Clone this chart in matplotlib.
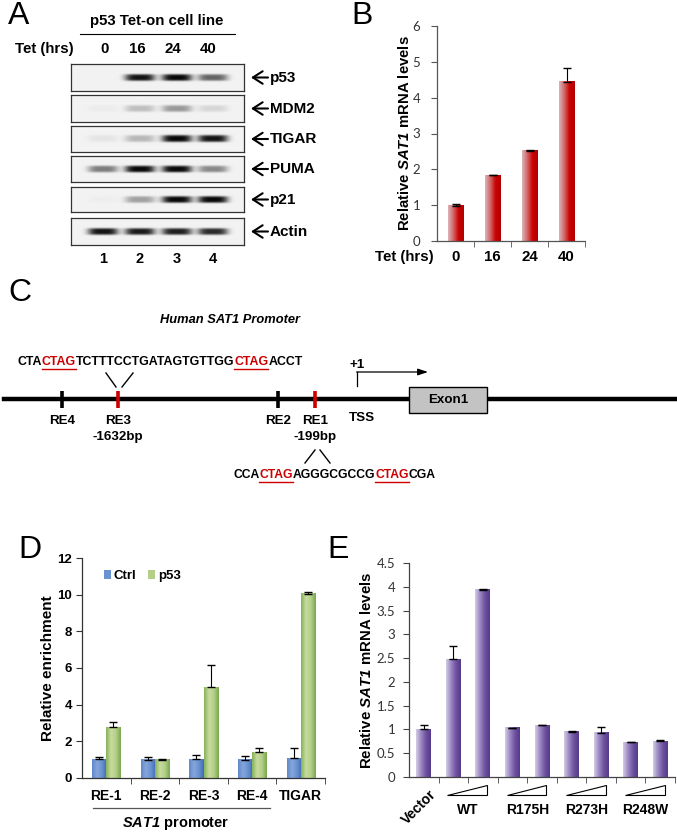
import numpy as np
import matplotlib
matplotlib.use('Agg')
import matplotlib.pyplot as plt
import matplotlib.transforms as mtransforms
from matplotlib import font_manager
from matplotlib.colors import LinearSegmentedColormap
from matplotlib.patches import Patch, Rectangle, Polygon

# %% data
tet_hours = ['0', '16', '24', '40']
sat1_tet = [0.99, 1.84, 2.52, 4.44]
sat1_tet_err = [0.05, 0.01, 0.01, 0.40]

blot_proteins = ['p53', 'MDM2', 'TIGAR', 'PUMA', 'p21', 'Actin']
blot_bands = [
    [0.00, 0.95, 1.00, 0.60],
    [0.03, 0.22, 0.38, 0.12],
    [0.06, 0.25, 1.00, 0.95],
    [0.50, 1.00, 1.00, 0.45],
    [0.02, 0.35, 1.00, 1.00],
    [0.95, 0.92, 0.90, 0.85],
]
lane_numbers = ['1', '2', '3', '4']

chip_sites = ['RE-1', 'RE-2', 'RE-3', 'RE-4', 'TIGAR']
chip_ctrl = [1.02, 1.0, 1.02, 1.0, 1.07]
chip_ctrl_err = [0.14, 0.12, 0.24, 0.2, 0.55]
chip_p53 = [2.77, 1.0, 4.95, 1.40, 10.04]
chip_p53_err = [0.27, 0.03, 1.2, 0.22, 0.12]

mutant_groups = ['WT', 'R175H', 'R273H', 'R248W']
mutant_vals = [1.0, 2.48, 3.94, 1.04, 1.09, 0.95, 0.93, 0.73, 0.75]
mutant_err = [0.09, 0.27, 0.02, 0.0, 0.01, 0.02, 0.13, 0.01, 0.02]

seq_re3 = [('CTA', 0), ('CTAG', 1), ('TCTTTCCTGATAGTGTTGG', 0), ('CTAG', 1), ('ACCT', 0)]
seq_re1 = [('CCA', 0), ('CTAG', 1), ('AGGGCGCCG', 0), ('CTAG', 1), ('CGA', 0)]

# %% style
names = {f.name for f in font_manager.fontManager.ttflist}
light = 'Lato' if 'Lato' in names else 'Open Sans'
plt.rcParams['font.family'] = ['Liberation Sans', 'DejaVu Sans']
plt.rcParams['mathtext.fontset'] = 'custom'
# digits inside \mathit fall back to rm, so rm is bold italic as well
plt.rcParams['mathtext.rm'] = 'Liberation Sans:italic:bold'
plt.rcParams['mathtext.it'] = 'Liberation Sans:italic:bold'
plt.rcParams['mathtext.bf'] = 'Liberation Sans:bold'

W, H = 677, 833
fig = plt.figure(figsize=(W / 100, H / 100), dpi=100)
RED = '#cc0000'


def px_axes(left, top, right, bottom):
    return fig.add_axes([left / W, 1 - bottom / H, (right - left) / W, (bottom - top) / H])


canvas = px_axes(0, 0, W, H)
canvas.set_xlim(0, W)
canvas.set_ylim(H, 0)
canvas.axis('off')

for letter, x, y in [('A', 8, 16), ('B', 351, 16), ('C', 8, 293), ('D', 18, 550), ('E', 327, 550)]:
    canvas.text(x, y, letter, fontsize=23, ha='left', va='center')


def gradient_bars(ax, bars, cmap):
    grad = np.linspace(0, 1, 64).reshape(1, -1)
    for b in bars:
        x0, w, h = b.get_x(), b.get_width(), b.get_height()
        ax.imshow(grad, cmap=cmap, extent=(x0, x0 + w, 0, h), aspect='auto',
                  interpolation='bicubic', zorder=2)
        b.set_facecolor('none')
        b.set_edgecolor('none')


def style_axes(ax, n, color, pad):
    for s in ['top', 'right']:
        ax.spines[s].set_visible(False)
    for s in ['left', 'bottom']:
        ax.spines[s].set_color(color)
        ax.spines[s].set_linewidth(0.9)
    ax.set_xticks(np.arange(n))
    ax.set_xticklabels([])
    ax.tick_params(axis='x', which='major', length=0)
    ax.set_xticks(np.arange(n) + 0.5, minor=True)
    ax.tick_params(axis='x', which='minor', length=4, direction='out', color=color)
    ax.tick_params(axis='y', length=4, direction='out', color=color, pad=pad)


# %% A - western blot
canvas.text(157, 21, 'p53 Tet-on cell line', fontsize=10.8, fontweight='bold', ha='center', va='center')
canvas.plot([80, 235], [34, 34], color='black', lw=0.8)
canvas.text(15, 49, 'Tet (hrs)', fontsize=10.8, fontweight='bold', ha='left', va='center')
lane_x = [103, 140, 177, 213]
for lx, lab in zip([105, 137, 173, 208], tet_hours):
    canvas.text(lx, 49, lab, fontsize=10.8, fontweight='bold', ha='center', va='center')
for lx, lab in zip(lane_x, lane_numbers):
    canvas.text(lx, 259, lab, fontsize=10.5, fontweight='bold', ha='center', va='center')

rows = [(64, 91), (95, 122), (126, 152), (156, 182), (187, 212), (218, 245)]
box_l, box_r = 71, 244
for (top, bot), prot, bands in zip(rows, blot_proteins, blot_bands):
    ax = px_axes(box_l, top, box_r, bot)
    nx, ny = (box_r - box_l) * 3, (bot - top) * 3
    xx, yy = np.meshgrid(np.linspace(box_l, box_r, nx), np.linspace(top, bot, ny))
    yc = (top + bot) / 2
    dark = np.zeros_like(xx)
    for lx, inten in zip(lane_x, bands):
        dark += inten * np.exp(-((xx - lx) / 15) ** 4) * np.exp(-((yy - yc) / 3.4) ** 4)
    img = 0.95 - 0.92 * np.clip(dark, 0, 1)
    ax.imshow(img, cmap='gray', vmin=0, vmax=1, aspect='auto', interpolation='bilinear')
    ax.set_xticks([])
    ax.set_yticks([])
    for s in ax.spines.values():
        s.set_linewidth(0.9)
        s.set_color('#333333')
    canvas.annotate('', xy=(251, yc), xytext=(268, yc),
                    arrowprops=dict(arrowstyle='->,head_length=0.7,head_width=0.45', lw=1.5, color='black',
                                    shrinkA=0, shrinkB=0))
    canvas.text(270, yc, prot, fontsize=11, fontweight='bold', ha='left', va='center')

# %% B - SAT1 mRNA vs tet
axB = px_axes(437, 26, 585, 241)
xb = np.arange(len(tet_hours))
bars = axB.bar(xb, sat1_tet, width=0.42, zorder=2)
red_cmap = LinearSegmentedColormap.from_list('r', ['#dcb4b8', '#d06868', '#cc0000', '#b00000'])
gradient_bars(axB, bars, red_cmap)
axB.errorbar(xb, sat1_tet, yerr=[np.zeros(4), sat1_tet_err], fmt='none', ecolor='black',
             elinewidth=0.8, capsize=3, capthick=1.0, zorder=3)
style_axes(axB, 4, '#555555', 8)
axB.set_xlim(-0.5, 3.5)
axB.set_ylim(0, 6)
axB.set_yticks(range(7))
axB.set_yticklabels([str(v) for v in range(7)], fontfamily=light, fontsize=9.5, color='#333333')
axB.set_ylabel(r'Relative $\mathit{SAT1}$ mRNA levels', fontsize=10.7, fontweight='bold', va='center')
axB.yaxis.set_label_coords(-0.22, 0.5)
tb = mtransforms.blended_transform_factory(axB.transData, axB.transAxes)
for x, lab in zip(xb, tet_hours):
    axB.text(x, -0.075, lab, transform=tb, fontsize=10.8, fontweight='bold', ha='center', va='center')
canvas.text(434, 257, 'Tet (hrs)', fontsize=10.8, fontweight='bold', ha='right', va='center')

# %% C - promoter diagram
canvas.text(230, 320, 'Human SAT1 Promoter', fontsize=9.3, fontweight='bold', fontstyle='italic',
            ha='center', va='center')
renderer = fig.canvas.get_renderer()


def seq_text(x, y, parts, fs):
    for s, site in parts:
        t = canvas.text(x, y, s, fontsize=fs, fontweight='bold',
                        color=RED if site else 'black', ha='left', va='center')
        w = t.get_window_extent(renderer).width
        if site:
            canvas.plot([x, x + w], [y + 6.5, y + 6.5], color=RED, lw=1.0)
        x += w


seq_text(17, 362, seq_re3, 8.9)
seq_text(233, 475, seq_re1, 8.7)
canvas.plot([106, 116], [373, 387], color='black', lw=1)
canvas.plot([133, 122], [373, 387], color='black', lw=1)
canvas.plot([305, 315], [463, 450], color='black', lw=1)
canvas.plot([320, 330], [450, 463], color='black', lw=1)

canvas.plot([4, W], [399, 399], color='black', lw=3.2, zorder=1)
re_sites = [('RE4', 62, 'black', ''), ('RE3', 118, RED, '-1632bp'),
            ('RE2', 278, 'black', ''), ('RE1', 315, RED, '-199bp')]
for lab, x, col, sub in re_sites:
    canvas.plot([x, x], [391, 408], color=col, lw=2.6, solid_capstyle='butt', zorder=2)
    canvas.text(x, 421, lab, fontsize=9.6, fontweight='bold', ha='center', va='center')
    if sub:
        canvas.text(x, 437, sub, fontsize=9.6, fontweight='bold', ha='center', va='center')
canvas.text(362, 418, 'TSS', fontsize=9.6, fontweight='bold', ha='center', va='center')
canvas.text(357, 365, '+1', fontsize=9.6, fontweight='bold', ha='center', va='center')
canvas.plot([357, 357], [386, 372], color='black', lw=0.9)
canvas.annotate('', xy=(428, 372), xytext=(356.6, 372),
                arrowprops=dict(arrowstyle='-|>,head_length=0.6,head_width=0.2', lw=0.9, color='black',
                                shrinkA=0, shrinkB=0))
canvas.add_patch(Rectangle((409, 387), 78, 26, facecolor='#c3c3c3', edgecolor='black', lw=1, zorder=3))
canvas.text(448, 400, 'Exon1', fontsize=9.6, fontweight='bold', ha='center', va='center', zorder=4)

# %% D - ChIP
axD = px_axes(82, 558, 325, 778)
xd = np.arange(len(chip_sites))
bw = 0.29
bc = axD.bar(xd - bw / 2, chip_ctrl, width=bw, zorder=2)
bp = axD.bar(xd + bw / 2, chip_p53, width=bw, zorder=2)
blue_cmap = LinearSegmentedColormap.from_list('b', ['#5f88c8', '#86a6dc', '#6a92d0', '#3d6cb4'])
green_cmap = LinearSegmentedColormap.from_list('g', ['#86b05a', '#c8dca0', '#b4d088', '#78a650'])
gradient_bars(axD, bc, blue_cmap)
gradient_bars(axD, bp, green_cmap)
axD.errorbar(xd - bw / 2, chip_ctrl, yerr=[np.zeros(5), chip_ctrl_err], fmt='none', ecolor='black',
             elinewidth=0.8, capsize=3, capthick=1.0, zorder=3)
axD.errorbar(xd + bw / 2, chip_p53, yerr=[np.zeros(5), chip_p53_err], fmt='none', ecolor='black',
             elinewidth=0.8, capsize=3, capthick=1.0, zorder=3)
style_axes(axD, 5, '#333333', 3)
axD.set_xlim(-0.5, 4.5)
axD.set_ylim(0, 12)
axD.set_yticks(range(0, 13, 2))
axD.set_yticklabels([str(v) for v in range(0, 13, 2)], fontsize=9.5, fontweight='bold')
axD.set_ylabel('Relative enrichment', fontsize=11, fontweight='bold', va='center')
axD.yaxis.set_label_coords(-0.14, 0.5)
td = mtransforms.blended_transform_factory(axD.transData, axD.transAxes)
for x, lab in zip(xd, chip_sites):
    axD.text(x, -0.08, lab, transform=td, fontsize=10, fontweight='bold', ha='center', va='center')
axD.legend(handles=[Patch(facecolor='#6a92d0', label='Ctrl'), Patch(facecolor='#b4d088', label='p53')],
           loc='upper left', bbox_to_anchor=(0.04, 1.0), ncol=2, frameon=False, handlelength=0.55,
           handleheight=0.7, handletextpad=0.2, columnspacing=0.9, prop={'weight': 'bold', 'size': 9.5})
canvas.plot([93, 270], [808, 808], color='#555555', lw=0.9)
canvas.text(176, 823, r'$\mathit{SAT1}$ promoter', fontsize=10.5, fontweight='bold', ha='center', va='center')

# %% E - mutants
axE = px_axes(409, 563, 675, 777)
xe = np.arange(len(mutant_vals))
be = axE.bar(xe, mutant_vals, width=0.5, zorder=2)
purple_cmap = LinearSegmentedColormap.from_list('p', ['#d4cce4', '#9c88c4', '#6e52a0', '#563a8a'])
gradient_bars(axE, be, purple_cmap)
axE.errorbar(xe, mutant_vals, yerr=[np.zeros(9), mutant_err], fmt='none', ecolor='black',
             elinewidth=0.8, capsize=3, capthick=1.0, zorder=3)
style_axes(axE, 9, '#444444', 6)
axE.set_xlim(-0.5, 8.5)
axE.set_ylim(0, 4.5)
ev = np.arange(0, 4.51, 0.5)
axE.set_yticks(ev)
axE.set_yticklabels(['%g' % v for v in ev], fontfamily=light, fontsize=9.5, color='#333333')
axE.set_ylabel(r'Relative $\mathit{SAT1}$ mRNA levels', fontsize=10.8, fontweight='bold', va='center')
axE.yaxis.set_label_coords(-0.16, 0.5)
te = mtransforms.blended_transform_factory(axE.transData, axE.transAxes)
for g, lab in enumerate(mutant_groups):
    x1, x2 = xe[1 + 2 * g], xe[2 + 2 * g]
    axE.add_patch(Polygon([(x1 - 0.2, -0.084), (x2 + 0.15, -0.084), (x2 + 0.15, -0.037)],
                          closed=True, transform=te, facecolor='white', edgecolor='black',
                          lw=0.8, clip_on=False))
    axE.text((x1 + x2) / 2, -0.155, lab, transform=te, fontsize=10, fontweight='bold',
             ha='center', va='center')
axE.text(xe[0] - 0.15, -0.14, 'Vector', transform=te, fontsize=10, fontweight='bold',
         ha='center', va='center', rotation=45)

fig.savefig('out.png', dpi=100)
